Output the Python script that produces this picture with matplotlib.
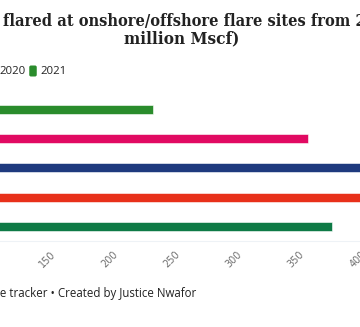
import matplotlib
matplotlib.use("Agg")
import matplotlib.pyplot as plt
from matplotlib.patches import FancyBboxPatch
from matplotlib.transforms import ScaledTranslation

# values in million Mscf, one bar per year (top to bottom)
years = ["2021", "2020", "2019", "2018", "2017"]
volumes = [227, 352, 420, 412, 371]
colors = ["#2a8c2c", "#e10a62", "#1e3a7e", "#e8301a", "#0e7a46"]
ticks = [0, 50, 100, 150, 200, 250, 300, 350, 400, 450]

W, H = 360, 327
fig = plt.figure(figsize=(W / 100, H / 100), dpi=100)
fig.patch.set_facecolor("white")

# plot area is wider than the canvas: value 0 sits off the left edge
x0, px_per_unit = -128.5, 1.24
xmax = 450
top, bottom = 94.5, 241
ax = fig.add_axes([x0 / W, (H - bottom) / H, xmax * px_per_unit / W, (bottom - top) / H])

ypos = range(len(years))
ax.barh(ypos, volumes, height=0.31, color=colors, edgecolor="white", linewidth=0.4)
ax.set_ylim(len(years) - 0.5, -0.5)
ax.set_xlim(0, xmax)
ax.set_xticks(ticks)
ax.set_xticklabels([str(t) for t in ticks], rotation=45, ha="right", fontsize=7, color="#707070")
shift = ScaledTranslation(5 / 100, 0, fig.dpi_scale_trans)
for lbl in ax.get_xticklabels():
    lbl.set_transform(lbl.get_transform() + shift)
ax.tick_params(axis="x", length=0, pad=6)
ax.set_yticks([])
for s in ["top", "left", "right"]:
    ax.spines[s].set_visible(False)
ax.spines["bottom"].set_color("#eef2f6")
ax.spines["bottom"].set_linewidth(0.8)

fig.text(3 / W, 1 - 25 / H, "flared at onshore/offshore flare sites from 2017 to 2021 (in",
         ha="left", va="baseline", fontsize=11.7, fontweight="bold",
         family="DejaVu Serif", fontstretch="condensed", color="#222222")
fig.text(181.5 / W, 1 - 43.5 / H, "million Mscf)", ha="center", va="baseline",
         fontsize=12.3, fontweight="bold", family="DejaVu Serif", fontstretch="condensed",
         color="#222222")

# legend: only the last entries are inside the canvas
leg_years = years[::-1]
leg_colors = colors[::-1]
lx = 67.0
ly = 1 - 71 / H
for yr, c in zip(leg_years[::-1], leg_colors[::-1]):
    t = fig.text(lx / W, ly, yr, ha="right", va="center", fontsize=8.2,
                 family="Open Sans", color="#222222")
    fig.canvas.draw()
    wpx = t.get_window_extent().width
    lx -= wpx + 4
    sq = FancyBboxPatch(((lx - 7.5) / W, ly - 5.5 / H), 7.5 / W, 11 / H,
                        boxstyle="round,pad=0,rounding_size=0.005", transform=fig.transFigure,
                        facecolor=c, edgecolor="none")
    fig.patches.append(sq)
    lx -= 7.5 + 4

fig.text(196 / W, 1 - 297 / H, "Source: Nigerian Gas Flare tracker \u2022 Created by Justice Nwafor",
         ha="right", va="baseline", fontsize=8.3, family="Open Sans", color="#222222")

fig.savefig("out.png", dpi=100)
